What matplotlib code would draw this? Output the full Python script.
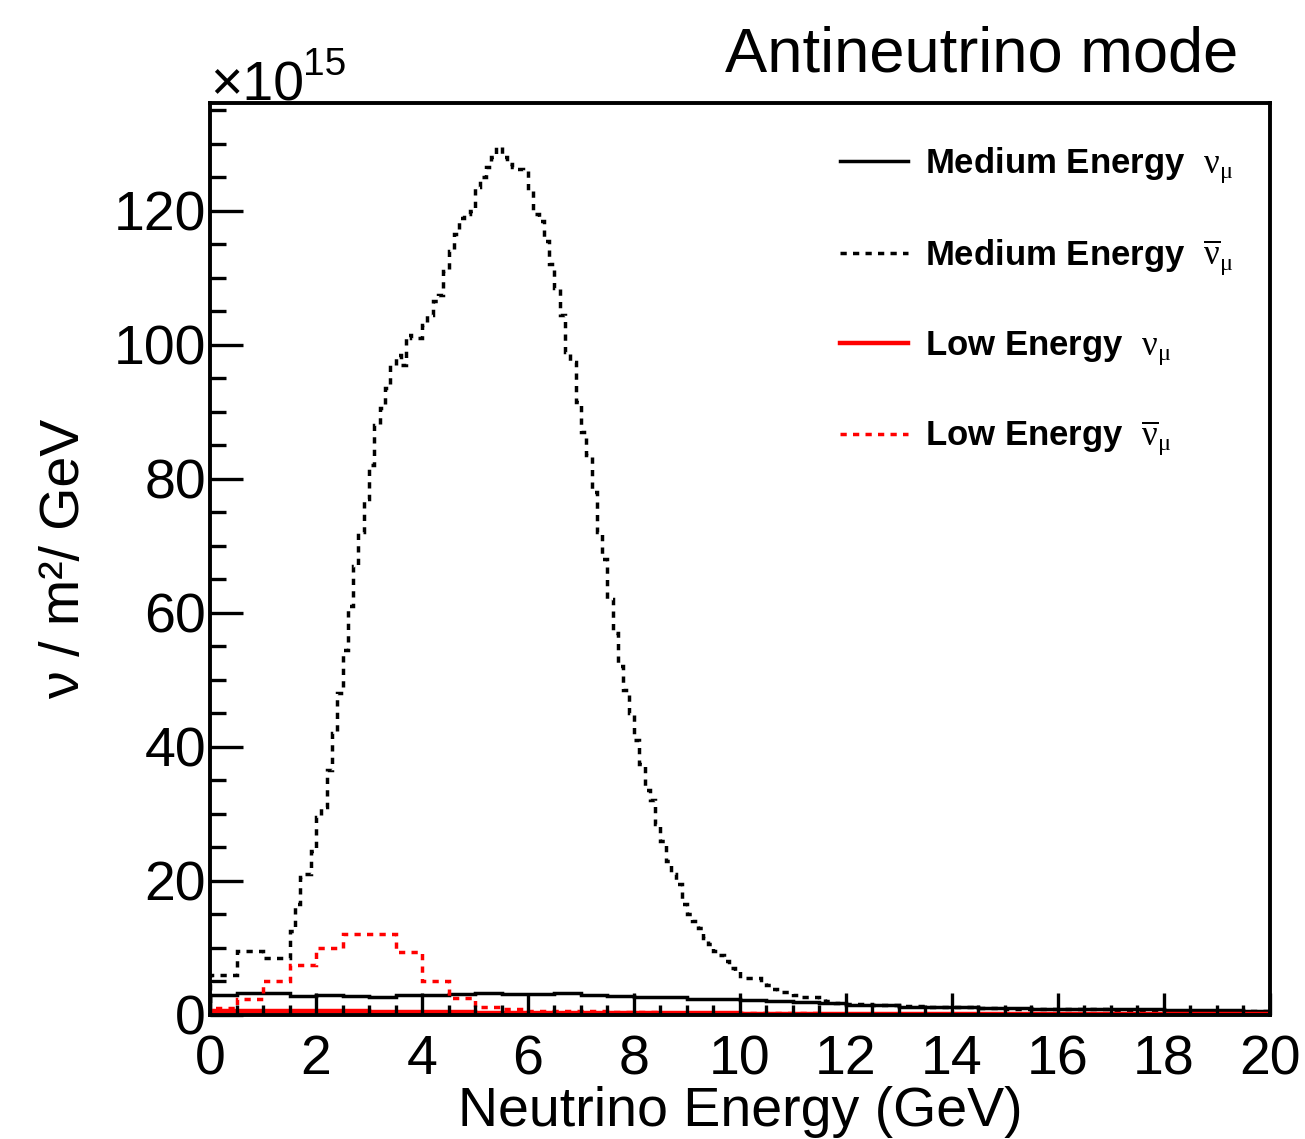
import numpy as np
import matplotlib
matplotlib.use("Agg")
import matplotlib.pyplot as plt

plt.rcParams['font.family'] = ['Liberation Sans', 'DejaVu Sans']
plt.rcParams['mathtext.fontset'] = 'custom'
plt.rcParams['mathtext.rm'] = 'Liberation Serif'
plt.rcParams['mathtext.it'] = 'Liberation Serif'
plt.rcParams['mathtext.default'] = 'rm'

# flux values in units of 1e15 nu / m^2 / GeV

# Medium Energy anti-numu (black dotted): 0.5 GeV bins below 1.5, 0.1 GeV bins to 12, 0.5 GeV bins to 20
me_anu_edges = np.concatenate([[0.0, 0.5, 1.0], np.arange(1.5, 12.0, 0.1), np.arange(12.0, 20.01, 0.5)])
me_anu_vals = [
    6.0, 9.6, 8.5,
    12.5, 16.5, 20.5, 21.0, 24.5, 29.5, 31.0, 36.5, 42.0, 48.0,
    54.5, 61.0, 67.0, 72.0, 77.0, 82.0, 88.0, 90.5, 93.5, 97.0,
    98.5, 97.0, 101.5, 101.0, 101.0, 103.0, 104.5, 106.5, 107.5, 111.0,
    114.0, 116.5, 119.0, 119.5, 120.0, 123.5, 125.0, 126.5, 128.0, 129.5,
    128.0, 127.0, 126.5, 126.3, 126.0, 123.0, 119.5, 118.5, 115.5, 112.0,
    108.5, 104.5, 99.0, 97.5, 91.5, 87.0, 83.5, 78.0, 72.0, 68.0,
    62.0, 57.0, 52.0, 48.5, 45.0, 41.0, 37.5, 33.5, 32.0, 28.5,
    26.0, 23.0, 21.0, 19.5, 16.5, 15.0, 14.0, 13.0, 11.5, 10.5,
    9.5, 9.0, 8.0, 7.0, 6.5, 5.5, 5.5, 5.5, 5.5, 4.8,
    4.5, 3.8, 3.4, 3.4, 3.4, 3.0, 2.7, 2.7, 2.7, 2.7,
    2.3, 2.0, 2.0, 1.8, 1.8,
    1.6, 1.4, 1.3, 1.2, 1.1, 1.0, 0.9, 0.9, 0.8, 0.8, 0.7, 0.7, 0.6, 0.6, 0.5, 0.5,
]

# 0.5 GeV bins for the other three
edges_half = np.arange(0.0, 20.01, 0.5)

me_nu_vals = [
    3.0, 3.3, 3.3, 2.8, 3.0, 2.8, 2.7, 2.9, 2.9, 3.1,
    3.2, 3.1, 3.1, 3.2, 3.0, 2.8, 2.7, 2.6, 2.3, 2.4,
    2.2, 2.0, 1.9, 1.8, 1.5, 1.4, 1.2, 1.2, 1.1, 1.0,
    1.0, 0.9, 0.9, 0.8, 0.8, 0.8, 0.7, 0.7, 0.7, 0.6,
]

le_nu_vals = [
    0.5, 0.5, 0.5, 0.5, 0.5, 0.5, 0.45, 0.45, 0.4, 0.4,
    0.35, 0.35, 0.3, 0.3, 0.3, 0.3, 0.25, 0.25, 0.25, 0.25,
    0.2, 0.2, 0.2, 0.2, 0.2, 0.2, 0.15, 0.15, 0.15, 0.15,
    0.15, 0.15, 0.1, 0.1, 0.1, 0.1, 0.1, 0.1, 0.1, 0.1,
]

le_anu_vals = [
    1.0, 2.3, 5.1, 7.4, 10.0, 12.0, 12.0, 9.4, 5.1, 2.5,
    1.2, 0.8, 0.6, 0.5, 0.5, 0.4, 0.4, 0.35, 0.3, 0.3,
    0.3, 0.25, 0.25, 0.2, 0.2, 0.2, 0.2, 0.15, 0.15, 0.15,
    0.15, 0.1, 0.1, 0.1, 0.1, 0.1, 0.1, 0.1, 0.1, 0.1,
]

labels = [
    r'Medium Energy  $\mathrm{ν}_{\mathrm{μ}}$',
    r'Medium Energy  $\overline{\mathrm{ν}}_{\mathrm{μ}}$',
    r'Low Energy  $\mathrm{ν}_{\mathrm{μ}}$',
    r'Low Energy  $\overline{\mathrm{ν}}_{\mathrm{μ}}$',
]

fig = plt.figure(figsize=(13.05, 11.39), dpi=100)
ax = fig.add_axes([0.161, 0.109, 0.812, 0.8006])

lw = 2.5
dots = (0, (1.8, 1.8))
ax.stairs(me_nu_vals, edges_half, color='black', lw=lw, label=labels[0])
ax.stairs(me_anu_vals, me_anu_edges, color='black', lw=lw, linestyle=dots, label=labels[1])
ax.stairs(le_nu_vals, edges_half, color='red', lw=3.2, label=labels[2])
ax.stairs(le_anu_vals, edges_half, color='red', lw=lw, linestyle=dots, label=labels[3])

ax.set_xlim(0, 20)
ax.set_ylim(0, 136.1)
ax.set_xticks(np.arange(0, 21, 2))
ax.set_xticks(np.arange(0, 20.01, 0.5), minor=True)
ax.set_yticks(np.arange(0, 121, 20))
ax.set_yticks(np.arange(0, 136, 5), minor=True)

ax.tick_params(axis='both', which='both', direction='in', width=2.4,
               top=False, right=False, labelsize=40)
ax.tick_params(axis='x', which='major', length=16, pad=14)
ax.tick_params(axis='x', which='minor', length=7)
ax.tick_params(axis='y', which='major', length=24, pad=3)
ax.tick_params(axis='y', which='minor', length=11.5)
for s in ax.spines.values():
    s.set_linewidth(2.8)

ax.set_xlabel('Neutrino Energy (GeV)', fontsize=40, labelpad=0)
ax.set_ylabel('ν / m²/ GeV', fontsize=40, labelpad=16)

leg = ax.legend(loc='upper right', frameon=False, prop={'weight': 'bold', 'size': 25},
                handlelength=1.95, handletextpad=0.5, labelspacing=1.5,
                bbox_to_anchor=(0.985, 0.976), borderaxespad=0.2)

fig.text(0.161, 0.912, '×10', fontsize=40, ha='left', va='baseline')
fig.text(0.232, 0.934, '15', fontsize=28, ha='left', va='baseline')
fig.text(0.949, 0.937, 'Antineutrino mode', fontsize=45.5, ha='right', va='baseline')

fig.savefig('out.png', dpi=100)
